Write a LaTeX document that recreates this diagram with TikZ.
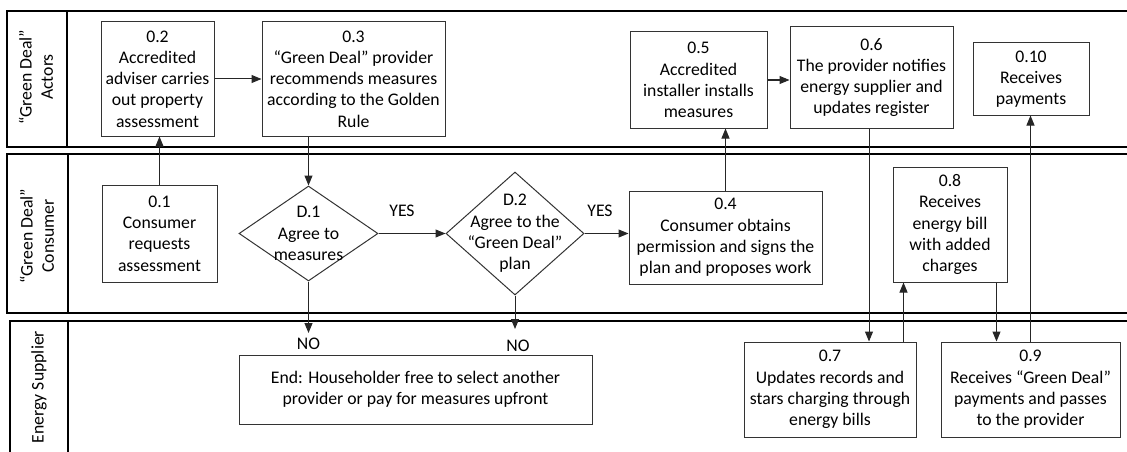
\documentclass[tikz,border=0pt]{standalone}
\usepackage{fontspec}
\setmainfont{Carlito}
\usetikzlibrary{arrows.meta,shapes.geometric}
\begin{document}
\begin{tikzpicture}[x=1pt,y=-1pt,
  font=\fontsize{17.7}{21.3}\selectfont,
  box/.style={draw=black!80, line width=1pt, align=center, inner sep=0pt},
  dia/.style={draw=black!80, line width=1pt, diamond, inner sep=0pt},
  txt/.style={align=center, inner sep=0pt},
  lane/.style={draw=black, line width=2pt},
  arr/.style={draw=black!85, line width=1pt, -{Triangle[length=10pt,width=8pt]}}
]
\useasboundingbox (0,0) rectangle (1127,452);

% lanes
\draw[lane] (1130,11) -- (7,11) -- (7,147) -- (1130,147);
\draw[lane] (67,11) -- (67,147);
\draw[lane] (1130,154) -- (7,154) -- (7,313) -- (1130,313);
\draw[lane] (68,154) -- (68,313);
\draw[lane] (1130,321) -- (10,321) -- (10,460);
\draw[lane] (68,321) -- (68,460);

\node[txt, rotate=90] (l1) at (36,77) {“Green Deal”\\Actors};
\node[txt, rotate=90] (l2) at (37,236) {“Green Deal”\\Consumer};
\node[txt, rotate=90] (l3) at (39,387) {Energy Supplier};

% actors lane
\node[box, minimum width=113pt, minimum height=114pt] (n02) at (157.5,79) {0.2\\Accredited\\adviser carries\\out property\\assessment};
\node[box, minimum width=183pt, minimum height=114pt] (n03) at (353.5,79) {0.3\\“Green Deal” provider\\recommends measures\\according to the Golden\\Rule};
\node[box, minimum width=137pt, minimum height=96pt] (n05) at (698.5,80) {0.5\\Accredited\\installer installs\\measures};
\node[box, minimum width=163pt, minimum height=101pt] (n06) at (871.5,77.5) {0.6\\The provider notifies\\energy supplier and\\updates register};
\node[box, minimum width=116pt, minimum height=72pt] (n010) at (1031,79) {0.10\\Receives\\payments};

% consumer lane
\node[box, minimum width=115pt, minimum height=97pt] (n01) at (159.5,233.5) {0.1\\Consumer\\requests\\assessment};
\node[dia, minimum width=139pt, minimum height=95pt] (d1) at (308.5,233.5) {};
\node[txt] (d1t) at (d1) {D.1\\Agree to\\measures};
\node[dia, minimum width=138pt, minimum height=123pt] (d2) at (515,233.5) {};
\node[txt] (d2t) at (d2) {D.2\\Agree to the\\“Green Deal”\\plan};
\node[box, minimum width=193pt, minimum height=93pt] (n04) at (725.5,237.5) {0.4\\Consumer obtains\\permission and signs the\\plan and proposes work};
\node[box, minimum width=114pt, minimum height=115pt] (n08) at (950,224.5) {0.8\\Receives\\energy bill\\with added\\charges};

% supplier lane
\node[box, minimum width=353pt, minimum height=69pt] (end) at (415.5,389.5) {End: Householder free to select another\\provider or pay for measures upfront};
\node[box, minimum width=172pt, minimum height=95pt] (n07) at (830,389.5) {0.7\\Updates records and\\stars charging through\\energy bills};
\node[box, minimum width=179pt, minimum height=95pt] (n09) at (1030.5,389.5) {0.9\\Receives “Green Deal”\\payments and passes\\to the provider};

% labels
\node[txt] (yes1) at (402,211) {YES};
\node[txt] (yes2) at (600,211) {YES};
\node[txt] (no1) at (308.5,344) {NO};
\node[txt] (no2) at (518,346) {NO};
\coordinate (no1end) at (308.5,333);
\coordinate (no2end) at (515,329);
\coordinate (c78) at ([xshift=11pt]n08.south west);
\coordinate (c89) at ([xshift=-11pt]n08.south east);

% connectors
\draw[arr] (n01.north) -- (n01.north |- n02.south);
\draw[arr] (n02.east) -- (n03.west);
\draw[arr] (d1.north |- n03.south) -- (d1.north);
\draw[arr] (d1.east) -- (d2.west);
\draw[arr] (d2.east) -- (d2.east -| n04.west);
\draw[arr] (d1.south) -- (no1end);
\draw[arr] (d2.south) -- (no2end);
\draw[arr] (n04.north) -- (n04.north |- n05.south);
\draw[arr] (n05.east) -- (n05.east -| n06.west);
\draw[arr] ([xshift=-2.5pt]n06.south) -- ([xshift=-2.5pt]n06.south |- n07.north);
\draw[arr] (c78 |- n07.north) -- (c78);
\draw[arr] (c89) -- (c89 |- n09.north);
\draw[arr] (n09.north) -- (n09.north |- n010.south);
\end{tikzpicture}
\end{document}
